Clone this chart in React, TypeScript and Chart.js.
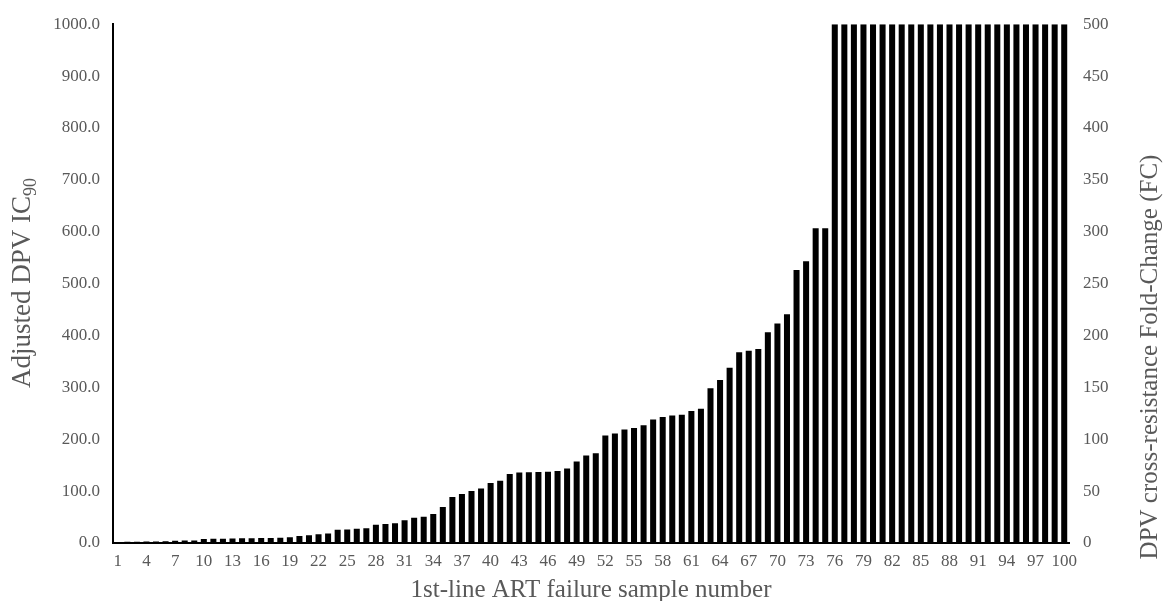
import React, { useEffect, useRef } from "react";
import { Chart, registerables } from "chart.js";

Chart.register(...registerables);

const sampleNumbers: string[] = Array.from({ length: 100 }, (_, i) => String(i + 1));

const ic90Values: number[] = [
  2.0, 2.2, 2.5, 2.8, 3.0, 3.3, 4.5, 4.8, 5.0, 7.5,
  8.0, 8.3, 8.8, 9.0, 9.2, 9.4, 9.6, 10.2, 11.0, 13.4,
  14.7, 17.0, 18.2, 25.5, 25.8, 27.5, 28.2, 35.0, 36.4, 38.0,
  44.0, 48.5, 50.5, 56.0, 69.6, 88.7, 94.5, 100.0, 105.0, 115.6,
  120.0, 132.8, 136.0, 136.6, 137.0, 137.2, 138.6, 143.7, 157.0, 168.6,
  173.0, 207.0, 211.0, 219.0, 221.6, 227.0, 238.0, 243.0, 246.0, 247.0,
  254.5, 259.0, 298.5, 314.0, 338.0, 367.6, 370.6, 374.0, 406.0, 423.0,
  441.0, 526.0, 543.0, 606.6, 606.6, 1000, 1000, 1000, 1000, 1000,
  1000, 1000, 1000, 1000, 1000, 1000, 1000, 1000, 1000, 1000,
  1000, 1000, 1000, 1000, 1000, 1000, 1000, 1000, 1000, 1000,
];

const leftTitleMain = "Adjusted DPV IC";
const leftTitleSub = "90";
const rightTitle = "DPV cross-resistance Fold-Change (FC)";
const xTitle = "1st-line ART failure sample number";

const FONT = "'Liberation Serif', 'Times New Roman', serif";
const TEXT = "#595959";

const titlesPlugin = {
  id: "axisTitles",
  afterDraw(chart: any) {
    const ctx = chart.ctx as CanvasRenderingContext2D;
    const area = chart.chartArea;
    ctx.save();
    ctx.fillStyle = TEXT;
    ctx.textBaseline = "middle";
    // left title with subscript
    ctx.save();
    ctx.translate(23, 283);
    ctx.rotate(-Math.PI / 2);
    ctx.font = `27px ${FONT}`;
    const w1 = ctx.measureText(leftTitleMain).width;
    ctx.font = `18px ${FONT}`;
    const w2 = ctx.measureText(leftTitleSub).width;
    const start = -(w1 + w2) / 2;
    ctx.textAlign = "left";
    ctx.font = `27px ${FONT}`;
    ctx.fillText(leftTitleMain, start, 0);
    ctx.font = `18px ${FONT}`;
    ctx.fillText(leftTitleSub, start + w1, 8);
    ctx.restore();
    // right title
    ctx.save();
    ctx.translate(1150, 357);
    ctx.rotate(-Math.PI / 2);
    ctx.font = `25px ${FONT}`;
    ctx.textAlign = "center";
    ctx.fillText(rightTitle, 0, 0);
    ctx.restore();
    // x title
    ctx.font = `25px ${FONT}`;
    ctx.textAlign = "center";
    ctx.fillText(xTitle, (area.left + area.right) / 2, 590);
    ctx.restore();
  },
};

export default function App() {
  const canvasRef = useRef<HTMLCanvasElement | null>(null);

  useEffect(() => {
    if (!canvasRef.current) return;
    const chart = new Chart(canvasRef.current, {
      type: "bar",
      data: {
        labels: sampleNumbers,
        datasets: [
          {
            data: ic90Values,
            backgroundColor: "#000000",
            borderWidth: 0,
            barPercentage: 0.63,
            categoryPercentage: 1.0,
            yAxisID: "y",
          },
        ],
      },
      options: {
        animation: false,
        responsive: true,
        maintainAspectRatio: false,
        layout: { padding: { top: 22, left: 0, right: 0, bottom: 0 } },
        plugins: { legend: { display: false }, tooltip: { enabled: false } },
        scales: {
          x: {
            grid: { display: false, drawTicks: false },
            border: { display: true, color: "#000000", width: 2 },
            ticks: {
              autoSkip: false,
              maxRotation: 0,
              minRotation: 0,
              padding: 8,
              color: TEXT,
              font: { family: FONT, size: 17 },
              callback: (_v: any, i: number) => (i % 3 === 0 ? sampleNumbers[i] : ""),
            },
            afterFit: (s: any) => {
              s.height = 58;
            },
          },
          y: {
            position: "left",
            min: 0,
            max: 1000,
            grid: { display: false, drawTicks: false },
            border: { display: true, color: "#000000", width: 2 },
            ticks: {
              stepSize: 100,
              padding: 13,
              color: TEXT,
              font: { family: FONT, size: 17 },
              callback: (v: any) => Number(v).toFixed(1),
            },
            afterFit: (s: any) => {
              s.width = 113;
            },
          },
          y2: {
            position: "right",
            min: 0,
            max: 500,
            grid: { display: false, drawTicks: false },
            border: { display: false },
            ticks: {
              stepSize: 50,
              padding: 14,
              color: TEXT,
              font: { family: FONT, size: 17 },
            },
            afterFit: (s: any) => {
              s.width = 99;
            },
          },
        },
      },
      plugins: [titlesPlugin],
    });
    return () => chart.destroy();
  }, []);

  return (
    <div style={{ position: "fixed", left: 0, top: 0, width: 1168, height: 601, background: "#fff" }}>
      <canvas ref={canvasRef} />
    </div>
  );
}
